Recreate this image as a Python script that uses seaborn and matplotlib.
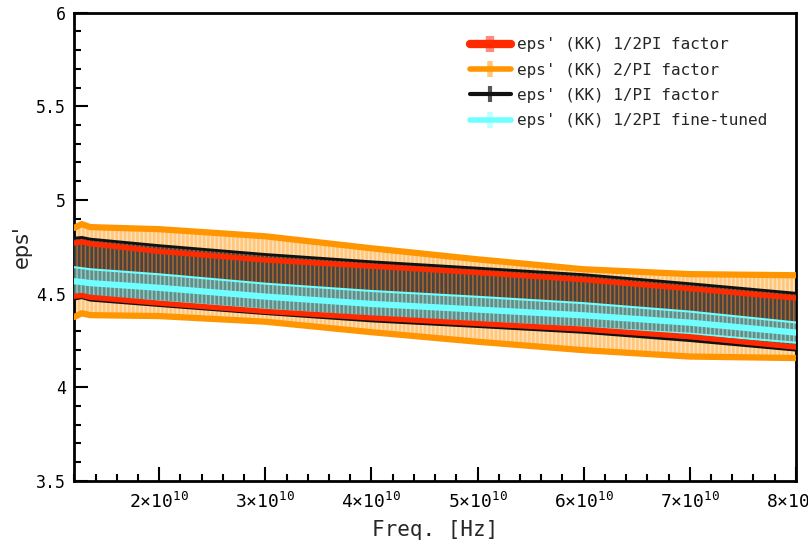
import numpy as np
import pandas as pd
import matplotlib
matplotlib.use("Agg")
import matplotlib.pyplot as plt
import seaborn as sns
from matplotlib.ticker import MultipleLocator, FuncFormatter

# frequency points [Hz]
freq = np.array([1.2, 1.27, 1.35, 2, 3, 4, 5, 6, 7, 8]) * 1e10

# eps' values and error half-widths
eps_half = [4.628, 4.633, 4.623, 4.587, 4.542, 4.508, 4.476, 4.442, 4.398, 4.345]
err_half = [0.142, 0.143, 0.143, 0.138, 0.137, 0.138, 0.136, 0.132, 0.128, 0.131]

eps_2pi = [4.613, 4.633, 4.620, 4.612, 4.578, 4.518, 4.463, 4.414, 4.384, 4.377]
err_2pi = [0.238, 0.238, 0.235, 0.232, 0.228, 0.224, 0.220, 0.216, 0.220, 0.221]

eps_1pi = [4.633, 4.639, 4.628, 4.596, 4.551, 4.512, 4.480, 4.447, 4.401, 4.350]
err_1pi = [0.163, 0.161, 0.163, 0.160, 0.158, 0.158, 0.156, 0.154, 0.152, 0.152]

eps_tuned = [4.566, 4.562, 4.556, 4.531, 4.484, 4.445, 4.415, 4.384, 4.345, 4.292]
err_tuned = [0.075, 0.074, 0.074, 0.072, 0.069, 0.069, 0.068, 0.065, 0.059, 0.054]

labels = ["eps' (KK) 1/2PI factor", "eps' (KK) 2/PI factor",
          "eps' (KK) 1/PI factor", "eps' (KK) 1/2PI fine-tuned"]

sns.set_theme(style="ticks")
plt.rcParams["font.family"] = ["DejaVu Sans Mono", "DejaVu Sans"]
plt.rcParams["mathtext.fontset"] = "custom"
plt.rcParams["mathtext.rm"] = "DejaVu Sans Mono"
plt.rcParams["mathtext.it"] = "DejaVu Sans Mono"
plt.rcParams["hatch.linewidth"] = 1.1
plt.rcParams["lines.solid_capstyle"] = "round"

fig = plt.figure(figsize=(8.08, 5.49), dpi=100)
ax = fig.add_axes([0.092, 0.124, 0.893, 0.853])


def band(y, e):
    y = np.asarray(y)
    e = np.asarray(e)
    return y - e, y + e


# error bars (mostly for legend handles; covered by bands)
h_red = ax.errorbar(freq, eps_half, yerr=err_half, color="#ff2a00", lw=6,
                    ecolor="#ff8a80", elinewidth=6, capsize=0, zorder=1)
h_or = ax.errorbar(freq, eps_2pi, yerr=err_2pi, color="#ff9500", lw=4,
                   ecolor="#ffc878", elinewidth=4, capsize=0, zorder=1)
h_bk = ax.errorbar(freq, eps_1pi, yerr=err_1pi, color="#111111", lw=3,
                   ecolor="#555555", elinewidth=3, capsize=0, zorder=1)
h_cy = ax.errorbar(freq, eps_tuned, yerr=err_tuned, color="#70ffff", lw=4,
                   ecolor="#c0ffff", elinewidth=4, capsize=0, zorder=1)

# orange band
lo, hi = band(eps_2pi, err_2pi)
ax.fill_between(freq, lo, hi, facecolor="#ffc77d", edgecolor="#ffe2b8",
                hatch="||||", linewidth=0, zorder=2)
sns.lineplot(x=freq, y=hi, ax=ax, color="#ff9500", lw=4.5, estimator=None, zorder=3)
sns.lineplot(x=freq, y=lo, ax=ax, color="#ff9500", lw=4.5, estimator=None, zorder=3)

# black band
lo, hi = band(eps_1pi, err_1pi)
ax.fill_between(freq, lo, hi, facecolor="#474444", edgecolor="#b0682a",
                hatch="||||", linewidth=0, zorder=4)
sns.lineplot(x=freq, y=hi, ax=ax, color="#111111", lw=2, estimator=None, zorder=5)
sns.lineplot(x=freq, y=lo, ax=ax, color="#111111", lw=2, estimator=None, zorder=5)

# cyan band
lo, hi = band(eps_tuned, err_tuned)
ax.fill_between(freq, lo, hi, facecolor="#5a918c", edgecolor="#9cc6be",
                hatch="||||", linewidth=0, zorder=6)
sns.lineplot(x=freq, y=hi, ax=ax, color="#70ffff", lw=1.5, estimator=None, zorder=7)
sns.lineplot(x=freq, y=lo, ax=ax, color="#70ffff", lw=1.5, estimator=None, zorder=7)
sns.lineplot(x=freq, y=eps_tuned, ax=ax, color="#70ffff", lw=4.5, estimator=None, zorder=7)

# red band edges
lo, hi = band(eps_half, err_half)
sns.lineplot(x=freq, y=hi, ax=ax, color="#ff2a00", lw=3.8, estimator=None, zorder=8)
sns.lineplot(x=freq, y=lo, ax=ax, color="#ff2a00", lw=3.8, estimator=None, zorder=8)

ax.set_xlim(1.2e10, 8e10)
ax.set_ylim(3.5, 6)

ax.xaxis.set_major_locator(MultipleLocator(1e10))
ax.xaxis.set_minor_locator(MultipleLocator(2e9))
ax.xaxis.set_major_formatter(FuncFormatter(lambda v, p: r"$%d{\times}10^{10}$" % round(v / 1e10)))
ax.yaxis.set_major_locator(MultipleLocator(0.5))
ax.yaxis.set_minor_locator(MultipleLocator(0.1))
ax.yaxis.set_major_formatter(FuncFormatter(lambda v, p: "%g" % v))

ax.tick_params(which="both", direction="in", top=False, right=False,
               colors="black", labelsize=12, width=1.5)
ax.tick_params(which="major", length=10, pad=6)
ax.tick_params(which="minor", length=5)
ax.tick_params(axis="x", which="major", labelsize=13, pad=8)
for s in ax.spines.values():
    s.set_linewidth(2)
    s.set_color("black")

ax.set_xlabel("Freq. [Hz]", fontsize=15, labelpad=6)
ax.set_ylabel("eps'", fontsize=15, family="DejaVu Sans", labelpad=3)

ax.legend([h_red, h_or, h_bk, h_cy], labels, loc="upper left",
          bbox_to_anchor=(0.528, 0.978), frameon=False, fontsize=11.5,
          handlelength=2.6, handletextpad=0.35, labelspacing=0.65)

fig.savefig("out.png", dpi=100)
